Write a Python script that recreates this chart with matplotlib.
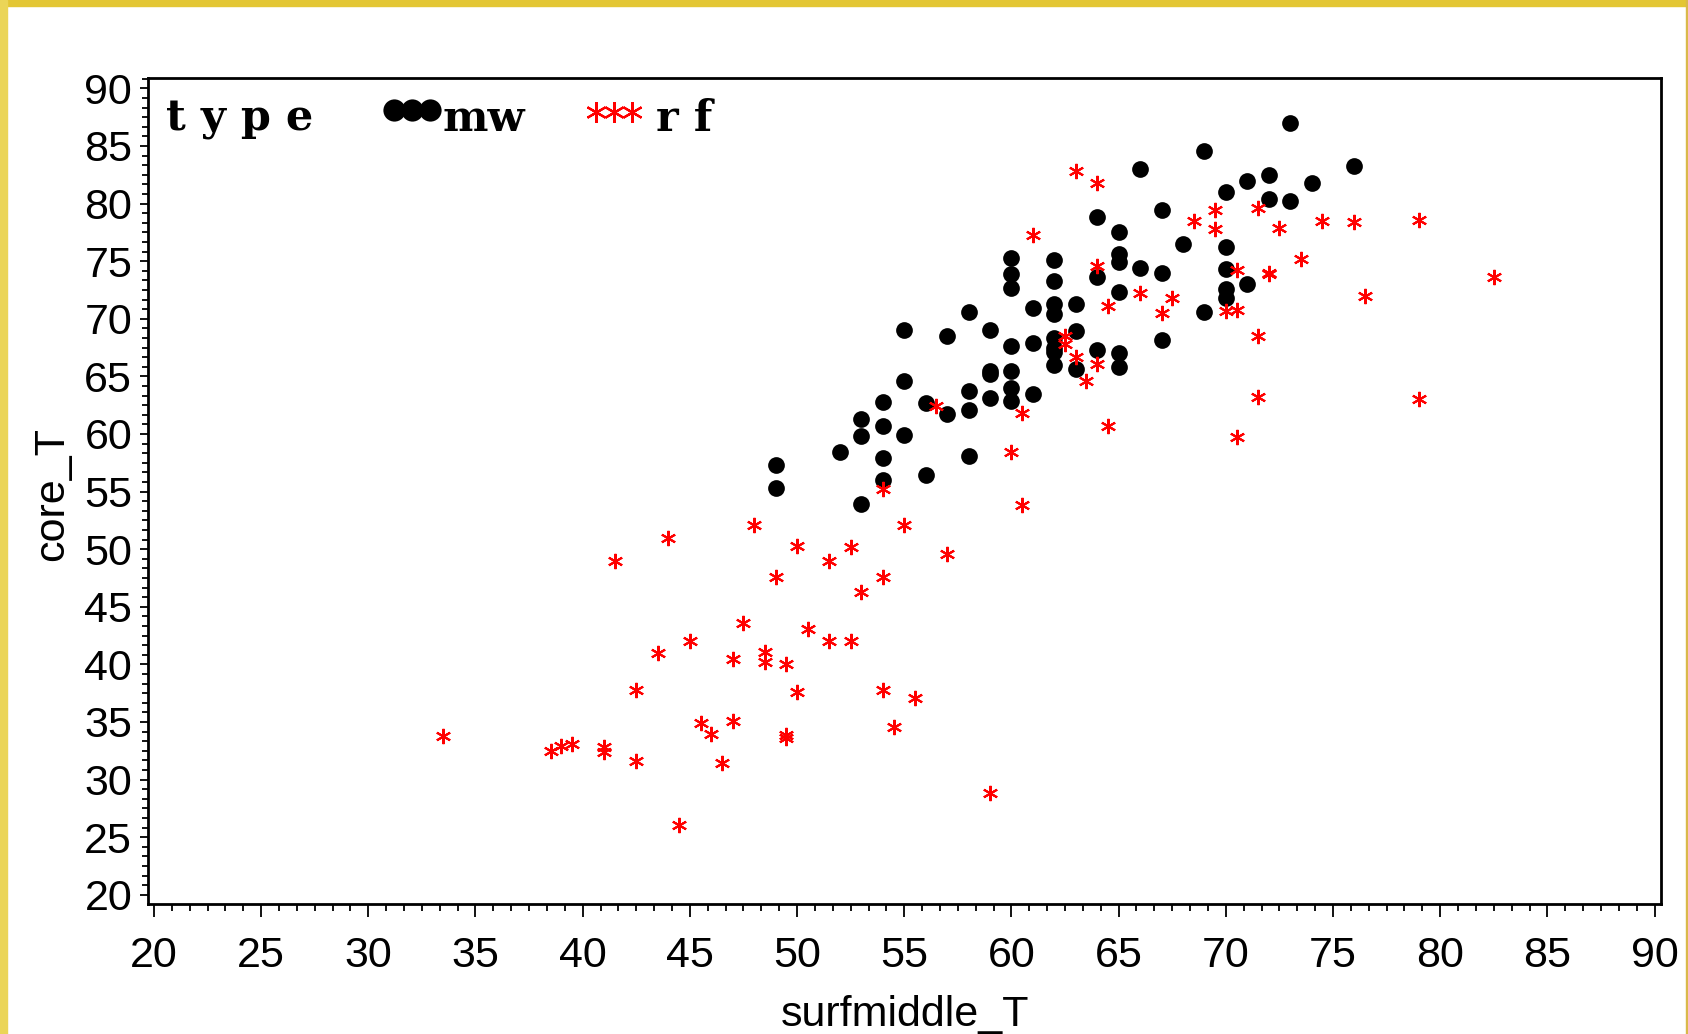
import matplotlib.pyplot as plt
from matplotlib.ticker import AutoMinorLocator
from matplotlib.patches import Rectangle

# type = mw  (surfmiddle_T, core_T)
mw_surf = [73, 69, 66, 76, 72, 71, 74, 70, 72, 73, 67, 64, 65, 68, 70,
           60, 62, 65, 65, 66, 67, 70, 60, 64, 62, 71, 60, 65, 70, 70,
           62, 63, 61, 58, 69, 62, 55, 59, 63, 57, 67, 61, 62, 60, 62,
           62, 64, 65, 62, 65, 63, 60, 59, 59, 55, 58, 60, 61, 60, 59,
           54, 56, 57, 58, 53, 54, 53, 55, 52, 58, 54, 49, 56, 54, 49, 53]
mw_core = [87.0, 84.6, 83.0, 83.3, 82.5, 82.0, 81.8, 81.0, 80.4, 80.2, 79.4, 78.8, 77.5, 76.5, 76.2,
           75.3, 75.1, 75.6, 74.9, 74.4, 74.0, 74.3, 73.9, 73.6, 73.3, 73.0, 72.7, 72.3, 72.6, 71.8,
           71.3, 71.3, 70.9, 70.6, 70.6, 70.4, 69.0, 69.0, 68.9, 68.5, 68.2, 67.9, 68.3, 67.6, 67.5,
           67.1, 67.3, 67.0, 66.0, 65.8, 65.6, 65.5, 65.5, 65.2, 64.6, 63.7, 64.0, 63.5, 62.9, 63.1,
           62.8, 62.7, 61.7, 62.1, 61.3, 60.7, 59.8, 59.9, 58.4, 58.1, 57.9, 57.3, 56.4, 56.0, 55.3, 53.9]

# type = rf
rf_surf = [63, 64, 61, 69.5, 68.5, 69.5, 71.5, 72.5, 74.5, 76, 79, 73.5, 64, 70.5, 72,
           72, 82.5, 76.5, 66, 67.5, 64.5, 67, 70, 70.5, 62.5, 62.5, 71.5, 63, 64, 63.5,
           71.5, 79, 56.5, 60.5, 64.5, 70.5, 60, 54, 60.5, 48, 55, 44, 41.5, 50, 52.5,
           51.5, 57, 49, 54, 53, 47.5, 50.5, 45, 51.5, 52.5, 43.5, 48.5, 48.5, 47, 49.5,
           42.5, 50, 54, 55.5, 33.5, 38.5, 39, 39.5, 41, 41, 42.5, 45.5, 46, 47, 46.5,
           49.5, 49.5, 54.5, 44.5, 59]
rf_core = [82.8, 81.8, 77.3, 79.4, 78.5, 77.8, 79.6, 77.9, 78.5, 78.4, 78.6, 75.2, 74.6, 74.2, 74.0,
           73.9, 73.6, 72.0, 72.2, 71.8, 71.1, 70.5, 70.7, 70.8, 68.5, 67.8, 68.5, 66.7, 66.1, 64.6,
           63.2, 63.0, 62.4, 61.8, 60.7, 59.7, 58.4, 55.2, 53.8, 52.1, 52.1, 51.0, 49.0, 50.3, 50.2,
           49.0, 49.6, 47.6, 47.6, 46.3, 43.6, 43.1, 42.0, 42.0, 42.0, 41.0, 41.1, 40.2, 40.5, 40.0,
           37.8, 37.6, 37.8, 37.1, 33.8, 32.5, 32.9, 33.1, 32.8, 32.4, 31.6, 34.9, 34.0, 35.1, 31.4,
           33.9, 33.6, 34.6, 26.1, 28.8]

tick_vals = list(range(20, 95, 5))
star = (6, 2, 0)
narrow = ['Liberation Sans', 'DejaVu Sans']
serif = ['DejaVu Serif']

fig = plt.figure(figsize=(16.88, 10.34), dpi=100)
fig.patch.set_facecolor('white')
# gold frame around the picture
fig.patches.append(Rectangle((0, 1 - 6 / 1034), 1, 6 / 1034, transform=fig.transFigure,
                             color='#E3C634', zorder=0))
fig.patches.append(Rectangle((0, 0), 7 / 1688, 1, transform=fig.transFigure,
                             color='#EBD557', zorder=0))
fig.patches.append(Rectangle((1 - 2 / 1688, 0), 2 / 1688, 1, transform=fig.transFigure,
                             color='#D9B94A', zorder=0))

ax = fig.add_axes([147.5 / 1688, 1 - 904 / 1034, 1513.5 / 1688, 826 / 1034])

ax.scatter(mw_surf, mw_core, s=145, color='black', marker='o', linewidths=0, zorder=3)
ax.plot(rf_surf, rf_core, linestyle='none', marker=star, markersize=11,
        markeredgewidth=1.5, color='red', zorder=4)

ax.set_xlim(19.7, 90.3)
ax.set_ylim(19.2, 90.9)
ax.set_xticks(tick_vals)
ax.set_yticks(tick_vals)
ax.xaxis.set_minor_locator(AutoMinorLocator(6))
ax.yaxis.set_minor_locator(AutoMinorLocator(6))

for sp in ax.spines.values():
    sp.set_linewidth(2)
ax.tick_params(axis='x', which='major', length=9, width=1.3, pad=14)
ax.tick_params(axis='x', which='minor', length=5, width=1.3)
ax.tick_params(axis='y', which='major', length=6, width=1.3, pad=5)
ax.tick_params(axis='y', which='minor', length=4, width=1.3)
for lab in ax.get_xticklabels() + ax.get_yticklabels():
    lab.set_family(narrow)
    lab.set_fontsize(31)

fig.text(905 / 1688, 1 - 1026 / 1034, 'surfmiddle_T', family=narrow, fontsize=31,
         ha='center', va='baseline')
fig.text(52 / 1688, 1 - 494 / 1034, 'core_T', family=narrow, fontsize=31,
         ha='center', va='center', rotation=90)

# legend drawn inside the frame, SAS style
ax.text(0.0122, 0.936, 't y p e', transform=ax.transAxes, family=serif,
        fontweight='bold', fontsize=31, va='baseline')
ax.plot([0.1628, 0.1747, 0.1866], [0.961] * 3, transform=ax.transAxes, linestyle='none',
        marker='o', markersize=16, color='black', markeredgewidth=0, clip_on=False)
ax.text(0.1952, 0.936, 'mw', transform=ax.transAxes, family=serif,
        fontweight='bold', fontsize=31, va='baseline')
ax.plot([0.2963, 0.3082, 0.3201], [0.9588] * 3, transform=ax.transAxes, linestyle='none',
        marker=star, markersize=15, markeredgewidth=1.6, color='red', clip_on=False)
ax.text(0.336, 0.936, 'r f', transform=ax.transAxes, family=serif,
        fontweight='bold', fontsize=31, va='baseline')

fig.savefig('out.png', dpi=100)
